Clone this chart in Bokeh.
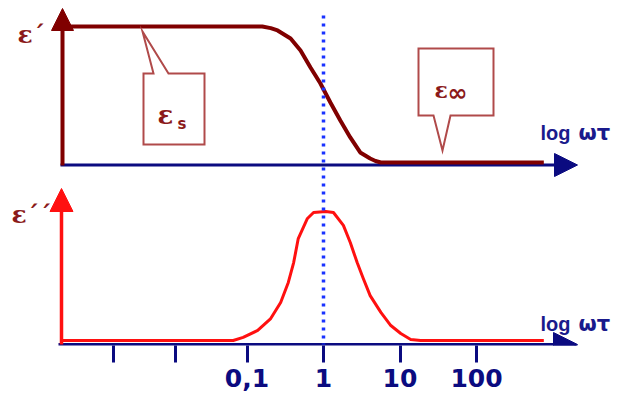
from bokeh.plotting import figure
from bokeh.models import Range1d, Arrow, NormalHead, FixedTicker, CustomJSTickFormatter
from bokeh.core.properties import value
from bokeh.embed import file_html
from bokeh.resources import INLINE

# Debye relaxation: normalised real part (eps' - eps_inf) / (eps_s - eps_inf)
real_log_wt = [-3.41, -0.80, -0.69, -0.60, -0.43, -0.30, -0.17, -0.04, 0.09,
               0.22, 0.35, 0.48, 0.61, 0.68, 0.75, 2.88]
real_eps = [1.0, 1.0, 0.988, 0.971, 0.912, 0.824, 0.699, 0.581, 0.441,
            0.309, 0.184, 0.074, 0.029, 0.011, 0.0, 0.0]

# normalised loss eps'' / (eps_s - eps_inf)
loss_log_wt = [-3.42, -1.18, -1.05, -0.86, -0.69, -0.56, -0.46, -0.39, -0.33,
               -0.21, -0.13, 0.03, 0.13, 0.26, 0.35, 0.44, 0.52, 0.61, 0.75,
               0.88, 1.01, 1.14, 1.27, 2.88]
loss_eps = [0.0, 0.0, 0.012, 0.039, 0.085, 0.147, 0.225, 0.302, 0.395,
            0.473, 0.496, 0.5, 0.496, 0.446, 0.380, 0.302, 0.240, 0.174, 0.109,
            0.058, 0.027, 0.004, 0.0, 0.0]

# log(ωτ) axis ticks
tick_pos = [-2.75, -1.93, -1, 0, 1, 2]
tick_labels = ["", "", "0,1", "1", "10", "100"]

# ---- canvas geometry (pixels) ----
W, H = 619, 401
AXIS_H = 56
FRAME_H = H - AXIS_H
X_UNITY = 323.0      # column of ωτ = 1
PX_DECADE = 76.5
ROW0_REAL, PX_REAL = 162.0, 136.0
ROW0_LOSS, PX_LOSS = 340.0, 258.0


def ux(col):
    return (col - X_UNITY) / PX_DECADE


def ur(row):
    return (ROW0_REAL - row) / PX_REAL


def ul(row):
    return (ROW0_LOSS - row) / PX_LOSS


NAVY = "#0b0b80"
DARK_RED = "#800000"
RED = "#ff1010"
BOX = "#b04a4a"
LABEL_RED = "#8b1a1a"
LABEL_BLUE = "#1a1a8c"

p = figure(width=W, height=H, output_backend="svg", toolbar_location=None,
           x_range=Range1d(ux(0), ux(W)),
           y_range=Range1d(ur(FRAME_H), ur(0)),
           y_axis_location=None, min_border=0, min_border_bottom=AXIS_H,
           outline_line_color=None, background_fill_color="white",
           border_fill_color="white")
p.extra_y_ranges = {"loss": Range1d(ul(FRAME_H), ul(0))}
p.xgrid.grid_line_color = None
p.ygrid.grid_line_color = None

ax = p.xaxis[0]
ax.ticker = FixedTicker(ticks=tick_pos)
ax.formatter = CustomJSTickFormatter(
    args=dict(pos=tick_pos, labs=tick_labels),
    code="const i = pos.indexOf(tick); return i < 0 ? '' : labs[i];")
ax.axis_line_color = None
ax.major_tick_line_color = NAVY
ax.major_tick_line_width = 3
ax.major_tick_in = 0
ax.major_tick_out = 17
ax.minor_tick_line_color = None
ax.major_label_standoff = 6
ax.major_label_text_font = "DejaVu Sans"
ax.major_label_text_font_style = "bold"
ax.major_label_text_font_size = "25px"
ax.major_label_text_color = NAVY


def arrow(x0, y0, x1, y1, color, width, size, rng="default"):
    p.add_layout(Arrow(x_start=x0, y_start=y0, x_end=x1, y_end=y1,
                       line_color=color, line_width=width, y_range_name=rng,
                       level="underlay",
                       end=NormalHead(size=size, fill_color=color,
                                      line_color=color, line_width=1)))


# horizontal log(ωτ) axes
arrow(ux(60), ur(164.5), ux(577), ur(164.5), NAVY, 3, 23)
arrow(ux(58), ul(344), ux(577), ul(344), NAVY, 3, 24, "loss")
# vertical eps' and eps'' axes
arrow(ux(62), ur(165), ux(62), ur(8), DARK_RED, 4, 22)
arrow(ux(61), ul(344), ux(61), ul(188), RED, 3.5, 23, "loss")

# curves
p.line(real_log_wt, real_eps, line_color=DARK_RED, line_width=4,
       line_join="round")
p.line(loss_log_wt, loss_eps, y_range_name="loss", line_color=RED,
       line_width=3, line_join="round")

# ωτ = 1 marker
p.line([0, 0], [ur(15), ur(344)], line_color="#1a33ff", line_width=3.5,
       line_dash="3 5")

# callout boxes
es_box = [(143, 73), (153, 73), (142, 31), (168, 73), (204, 73), (204, 144),
          (143, 144)]
einf_box = [(418, 48), (493, 48), (493, 115), (450, 115), (442, 150),
            (433, 115), (418, 115)]
for pts in (es_box, einf_box):
    p.patch([ux(c) for c, _ in pts], [ur(r) for _, r in pts],
            fill_color="white", line_color=BOX, line_width=2,
            line_join="miter")

serif = value("DejaVu Serif")
sans = value("Liberation Sans")
dsans = value("DejaVu Sans")


def label(col, row, txt, size, font=serif, color=LABEL_RED, rng="default",
          conv=ur):
    p.text([ux(col)], [conv(row)], text=[txt], y_range_name=rng,
           text_font=font, text_font_style="bold", text_font_size=size,
           text_color=color, text_baseline="alphabetic", text_align="left")


label(17, 34, "ε´", "25px")
label(11, 214, "ε´´", "25px", rng="loss", conv=ul)
label(157, 114, "ε", "26px")
label(177, 123, "s", "15px", font=dsans)
label(434, 89, "ε", "22px")
label(447, 92, "∞", "24px", font=dsans)

for row, rng, conv in ((132, "default", ur), (323, "loss", ul)):
    label(540, row, "log", "20px", font=sans, color=LABEL_BLUE, rng=rng,
          conv=conv)
    label(578, row, "ωτ", "21px", font=dsans, color=LABEL_BLUE, rng=rng,
          conv=conv)

open("out.html", "w").write(file_html(p, INLINE))
